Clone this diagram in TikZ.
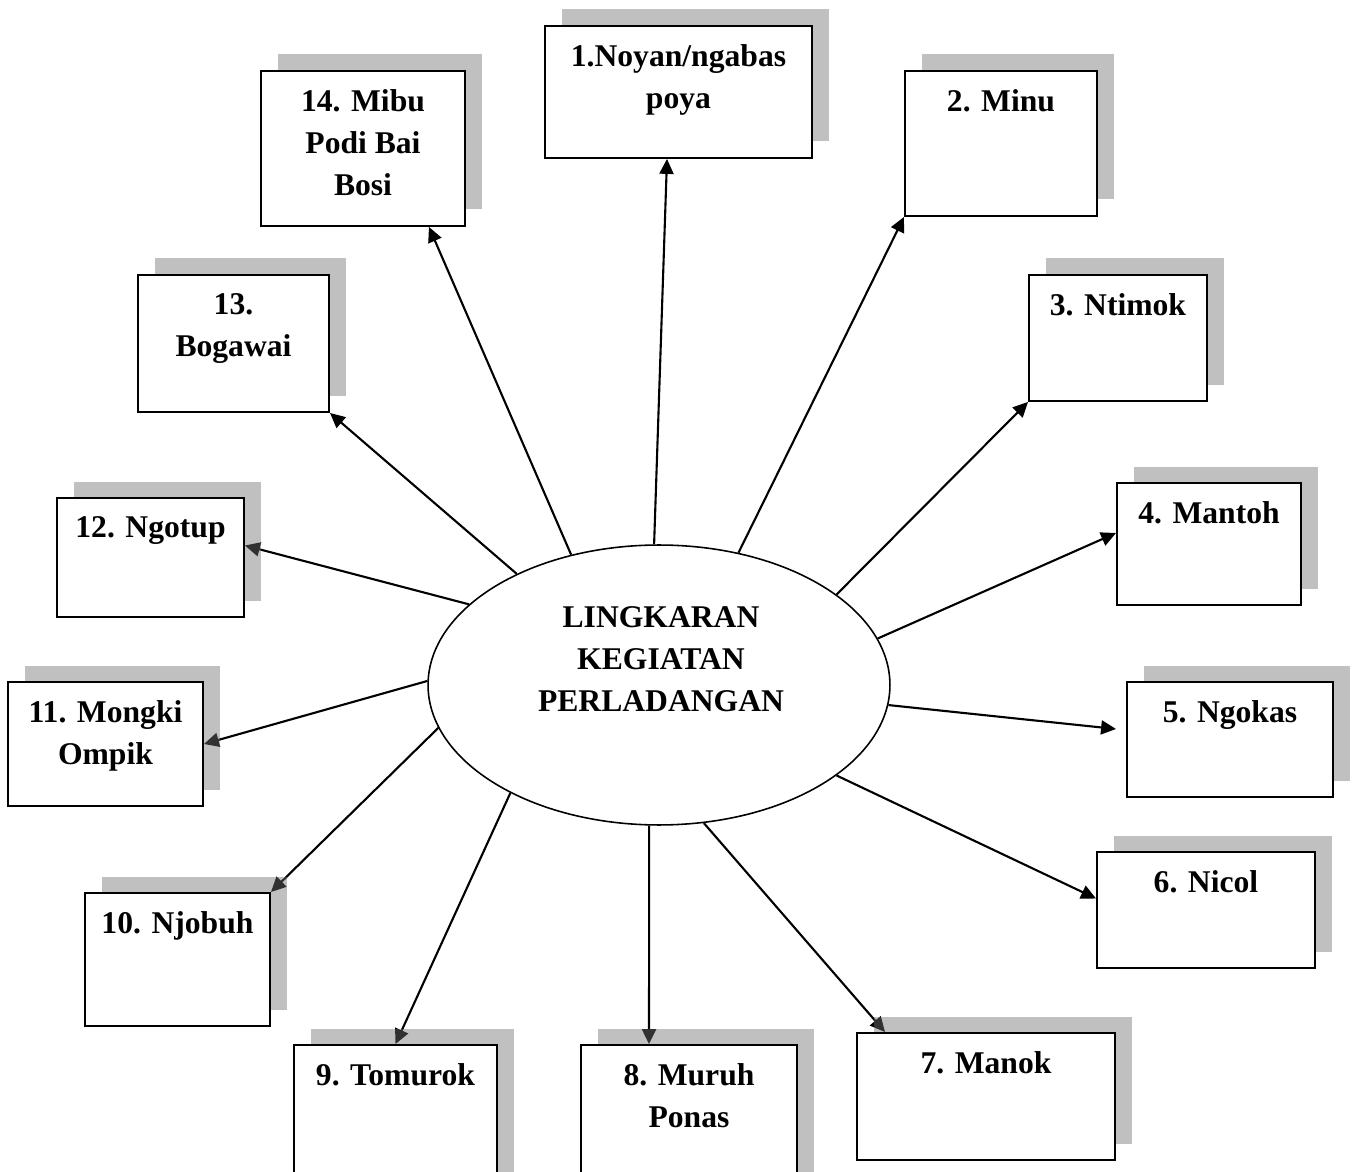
\documentclass[tikz,border=0pt]{standalone}
\usepackage{fontspec}
\setmainfont{Liberation Serif}
\usepackage{tikz}
\usetikzlibrary{positioning}
\usetikzlibrary{fit}
\usetikzlibrary{shapes.geometric}
\usetikzlibrary{shadows}
\usetikzlibrary{arrows.meta}
\usetikzlibrary{backgrounds}
\definecolor{shadowgray}{gray}{0.44}
\tikzstyle{box}=[draw, line width=1.1pt, fill=white, inner sep=0pt, drop shadow={shadow xshift=0.34cm, shadow yshift=0.33cm, fill=shadowgray, opacity=0.44}]
\tikzstyle{txt}=[font=\fontsize{18}{23.8}\selectfont\bfseries, align=center, inner sep=0pt]
\tikzstyle{hub}=[ellipse, draw, line width=0.9pt, fill=white, minimum width=9.24cm, minimum height=5.6cm, inner sep=0pt]
\tikzstyle{arrow}=[->, >={Triangle[length=8.5pt, width=8pt]}, line width=1.2pt]

\begin{document}
\begin{tikzpicture}[x=0.02cm, y=-0.02cm]
      \useasboundingbox (0,0) rectangle (1357,1172);

      \node [hub] (ell) at (659,685) {};
      \node [txt] (title) at (661,659) {LINGKARAN\\KEGIATAN\\PERLADANGAN};

      \node [box, fit={(545,26) (812,158)}] (b1) {};
      \node [box, fit={(905,71) (1097,216)}] (b2) {};
      \node [box, fit={(1029,275) (1207,401)}] (b3) {};
      \node [box, fit={(1117,483) (1301,605)}] (b4) {};
      \node [box, fit={(1127,682) (1333,797)}] (b5) {};
      \node [box, fit={(1097,852) (1315,968)}] (b6) {};
      \node [box, fit={(857,1033) (1115,1160)}] (b7) {};
      \node [box, fit={(581,1045) (797,1190)}] (b8) {};
      \node [box, fit={(294,1045) (497,1190)}] (b9) {};
      \node [box, fit={(85,893) (270,1026)}] (b10) {};
      \node [box, fit={(8,682) (203,806)}] (b11) {};
      \node [box, fit={(57,498) (244,617)}] (b12) {};
      \node [box, fit={(138,275) (329,412)}] (b13) {};
      \node [box, fit={(261,71) (465,226)}] (b14) {};

      \node [txt, below=0.39cm of b1.north] (t1) {1.Noyan/ngabas\\poya};
      \node [txt, below=0.39cm of b2.north] (t2) {2. Minu};
      \node [txt, below=0.39cm of b3.north] (t3) {3. Ntimok};
      \node [txt, below=0.39cm of b4.north] (t4) {4. Mantoh};
      \node [txt, below=0.39cm of b5.north] (t5) {5. Ngokas};
      \node [txt, below=0.39cm of b6.north] (t6) {6. Nicol};
      \node [txt, below=0.39cm of b7.north] (t7) {7. Manok};
      \node [txt, below=0.39cm of b8.north] (t8) {8. Muruh\\Ponas};
      \node [txt, below=0.39cm of b9.north] (t9) {9. Tomurok};
      \node [txt, below=0.39cm of b10.north] (t10) {10. Njobuh};
      \node [txt, below=0.39cm of b11.north] (t11) {11. Mongki\\Ompik};
      \node [txt, below=0.39cm of b12.north] (t12) {12. Ngotup};
      \node [txt, below=0.39cm of b13.north] (t13) {13.\\Bogawai};
      \node [txt, below=0.39cm of b14.north] (t14) {14. Mibu\\Podi Bai\\Bosi};

      \coordinate (e5) at (1116,729);

      \begin{scope}[on background layer]
      \draw [arrow] (ell.92.4) -- ([xshift=-0.23cm]b1.south);
      \draw [arrow] (ell.59.3) -- (b2.south west);
      \draw [arrow] (ell.27.6) -- (b3.south west);
      \draw [arrow] (ell.12.5) -- ([yshift=0.22cm]b4.west);
      \draw [arrow] (ell.-5.4) -- (e5);
      \draw [arrow] (ell.-27.2) -- ([yshift=0.23cm]b6.west);
      \draw [arrow] (ell.-72.9) -- ([xshift=0.58cm]b7.north west);
      \draw [arrow] (ell.-94) -- ([xshift=-0.8cm]b8.north);
      \draw [arrow] (ell.216.8) -- (b9.north);
      \draw [arrow] (ell.191.5) -- (b10.north east);
      \draw [arrow] (ell.179.3) -- (b11.east);
      \draw [arrow] (ell.157.8) -- ([yshift=0.24cm]b12.east);
      \draw [arrow] (ell.142.7) -- (b13.south east);
      \draw [arrow] (ell.124.6) -- ([xshift=-0.74cm]b14.south east);
      \end{scope}
    \end{tikzpicture}
\end{document}
